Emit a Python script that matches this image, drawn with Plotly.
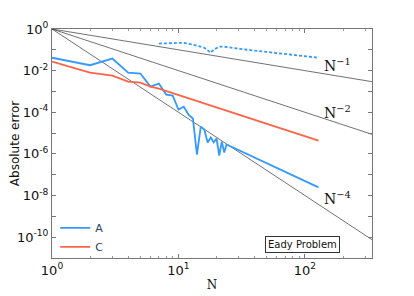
import plotly.graph_objects as go

# Data
N_A = list(range(1, 25)) + [128]
err_A = [10**-1.38, 10**-1.74, 10**-1.42, 10**-2.10, 10**-2.14, 10**-2.77, 10**-2.62,
         10**-3.15, 10**-3.20, 10**-3.87, 10**-3.73, 10**-4.11, 10**-4.30, 10**-6.03,
         10**-4.69, 10**-4.83, 10**-5.45, 10**-5.21, 10**-5.45, 10**-5.26, 10**-6.08,
         10**-5.41, 10**-5.93, 10**-5.55, 10**-7.61]

N_C = [1, 2, 3, 4, 5, 6, 7, 128]
err_C = [10**-1.57, 10**-2.10, 10**-2.24, 10**-2.53, 10**-2.58, 10**-2.77, 10**-2.86, 10**-5.36]

N_B = [7, 9, 11, 13, 16, 18, 19, 21, 23, 32, 64, 128]
err_B = [10**-0.70, 10**-0.66, 10**-0.66, 10**-0.75, 10**-0.90, 10**-1.14, 10**-0.99,
         10**-0.85, 10**-0.85, 10**-0.97, 10**-1.18, 10**-1.38]

ref_orders = [1, 2, 4]
ref_N = [1, 400]
ref_labels = ["N<sup>\u22121</sup>", "N<sup>\u22122</sup>", "N<sup>\u22124</sup>"]
ref_label_pos = [(2.26, -1.71), (2.26, -3.97), (2.26, -8.14)]

x_ticks = [1, 10, 100]
x_ticktext = ["10<sup>0</sup>", "10<sup>1</sup>", "10<sup>2</sup>"]
y_ticks = [10**-k for k in range(0, 12)]
y_ticktext = ["10<sup>%d</sup>" % (-k) if k % 2 == 0 else "" for k in range(0, 12)]

blue = "#3399FF"
red = "#FF6347"

fig = go.Figure()

for p in ref_orders:
    fig.add_trace(go.Scatter(x=ref_N, y=[n ** (-p) for n in ref_N], mode="lines",
                             line=dict(color="#333333", width=0.7), showlegend=False,
                             hoverinfo="skip"))

fig.add_trace(go.Scatter(x=N_B, y=err_B, mode="lines",
                         line=dict(color=blue, width=1.8, dash="3px,2px"), showlegend=False))
fig.add_trace(go.Scatter(x=N_A, y=err_A, mode="lines", name="A",
                         line=dict(color=blue, width=1.8)))
fig.add_trace(go.Scatter(x=N_C, y=err_C, mode="lines", name="C",
                         line=dict(color=red, width=1.8)))

for lab, (lx, ly) in zip(ref_labels, ref_label_pos):
    fig.add_annotation(x=lx, y=ly, xref="x", yref="y", text=lab, showarrow=False,
                       font=dict(family="DejaVu Serif", size=14, color="#111111"))

fig.add_annotation(x=0.784, y=0.061, xref="paper", yref="paper", text="Eady Problem",
                   xanchor="center", yanchor="middle",
                   showarrow=False, bordercolor="#333333", borderwidth=1, borderpad=2,
                   bgcolor="white", font=dict(family="DejaVu Sans", size=10, color="#111111"))

minor_x = [m * 10**e for e in range(0, 3) for m in range(2, 10)]

axis_common = dict(showline=True, linecolor="#777777", linewidth=1, mirror="ticks",
                   ticks="inside", ticklen=4, tickcolor="#777777", showgrid=False,
                   zeroline=False, automargin=False,
                   tickfont=dict(family="DejaVu Sans", size=13, color="#111111"))

fig.update_xaxes(type="log", range=[0, 2.53], tickmode="array", tickvals=x_ticks,
                 ticktext=x_ticktext,
                 minor=dict(tickmode="array", tickvals=minor_x, ticks="inside", ticklen=2,
                            tickcolor="#999999"),
                 title=dict(text="N", font=dict(family="DejaVu Serif", size=12, color="#111111"),
                            standoff=4),
                 **axis_common)
fig.update_yaxes(type="log", range=[-11, 0], tickmode="array", tickvals=y_ticks,
                 ticktext=y_ticktext,
                 title=dict(text="Absolute error", font=dict(family="DejaVu Sans", size=12,
                                                             color="#111111"), standoff=6),
                 **axis_common)

# page body has an 8px default margin, so margins are shifted to compensate
fig.update_layout(width=414, height=296, margin=dict(l=44, r=50, t=21, b=46),
                  paper_bgcolor="white", plot_bgcolor="white",
                  legend=dict(x=0.01, y=-0.015, xanchor="left", yanchor="bottom",
                              bgcolor="rgba(0,0,0,0)", font=dict(family="DejaVu Sans", size=11),
                              tracegroupgap=0, itemwidth=30))

fig.write_html("out.html")
